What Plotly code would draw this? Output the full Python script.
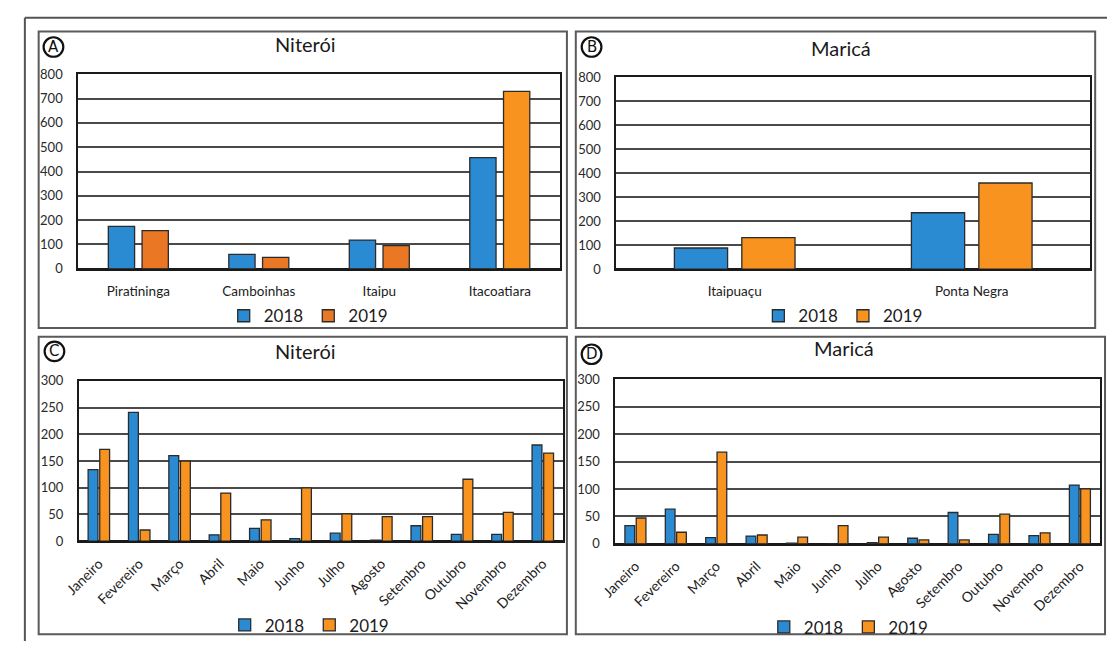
import plotly.graph_objects as go

# ---- data -----------------------------------------------------------------
praias_niteroi = ["Piratininga", "Camboinhas", "Itaipu", "Itacoatiara"]
niteroi_2018 = [174, 59, 118, 457]
niteroi_2019 = [157, 47, 95, 730]

praias_marica = ["Itaipuaçu", "Ponta Negra"]
marica_2018 = [88, 235]
marica_2019 = [131, 359]

meses = ["Janeiro", "Fevereiro", "Março", "Abril", "Maio", "Junho", "Julho",
         "Agosto", "Setembro", "Outubro", "Novembro", "Dezembro"]
niteroi_mes_2018 = [134, 241, 160, 12, 24, 5, 15, 2, 29, 13, 13, 180]
niteroi_mes_2019 = [172, 21, 150, 90, 40, 100, 51, 46, 46, 116, 54, 165]
marica_mes_2018 = [33, 63, 11, 14, 1, 0, 2, 10, 57, 17, 15, 107]
marica_mes_2019 = [47, 21, 167, 16, 12, 33, 12, 7, 7, 54, 20, 100]

anos = ["2018", "2019"]

# ---- styling --------------------------------------------------------------
W, H = 1107, 649
BLUE = "#2A8BD2"
ORANGE = "#F7931E"
DARK_ORANGE = "#EA7724"
EDGE = "#2b2b2b"
GRID = "#4a4a4a"
FONT = "Lato, 'Open Sans', sans-serif"
TEXT = "#1c1c1c"


def px_x(v):
    return v / W


def px_y(v):
    return 1 - v / H


fig = go.Figure()


def add_pair(cats, v18, v19, xa, ya, legend, width, gap, c19=ORANGE):
    fig.add_trace(go.Bar(
        x=cats, y=v18, name=anos[0], xaxis=xa, yaxis=ya, legend=legend,
        marker=dict(color=BLUE, line=dict(color=EDGE, width=1.3)),
        width=width, offset=-(width + gap / 2),
    ))
    fig.add_trace(go.Bar(
        x=cats, y=v19, name=anos[1], xaxis=xa, yaxis=ya, legend=legend,
        marker=dict(color=c19, line=dict(color=EDGE, width=1.3)),
        width=width, offset=gap / 2,
    ))


# panel A: first three 2019 bars in darker orange
colors_a = [DARK_ORANGE, DARK_ORANGE, DARK_ORANGE, ORANGE]
add_pair(praias_niteroi, niteroi_2018, niteroi_2019, "x", "y", "legend",
         0.218, 0.062, colors_a)
add_pair(praias_marica, marica_2018, marica_2019, "x2", "y2", "legend2",
         0.2245, 0.06)
add_pair(meses, niteroi_mes_2018, niteroi_mes_2019, "x3", "y3", "legend3",
         0.244, 0.044)
add_pair(meses, marica_mes_2018, marica_mes_2019, "x4", "y4", "legend4",
         0.24, 0.04)

# plot-area boxes in pixels: (left, right, top, bottom)
boxes = {
    "": (63, 552, 68, 267.3),
    "2": (609, 1090, 71, 267.7),
    "3": (63.6, 555, 382.3, 546.7),
    "4": (608, 1100, 380.7, 549.3),
}
yranges = {"": (800, 100), "2": (800, 100), "3": (300, 50), "4": (300, 50)}

layout = dict(
    width=W, height=H, margin=dict(l=0, r=0, t=0, b=0),
    paper_bgcolor="white", plot_bgcolor="white",
    barmode="group", showlegend=True,
    font=dict(family=FONT, color=TEXT),
)

for k, (l, r, t, b) in boxes.items():
    ymax, dt = yranges[k]
    rotated = k in ("3", "4")
    layout["xaxis" + k] = dict(
        domain=[px_x(l), px_x(r)], anchor="y" + k,
        showline=True, mirror=True, linecolor="#1a1a1a", linewidth=1.6,
        showgrid=False, ticks="", fixedrange=True,
        tickangle=-45 if rotated else 0,
        tickfont=dict(size=14 if rotated else 13.5, color=TEXT, family=FONT),
        ticklabelstandoff=7 if rotated else 9,
    )
    layout["yaxis" + k] = dict(
        domain=[px_y(b), px_y(t)], anchor="x" + k,
        range=[0, ymax], dtick=dt, tick0=0,
        showline=True, mirror=True, linecolor="#1a1a1a", linewidth=1.6,
        showgrid=True, gridcolor=GRID, gridwidth=1.7,
        zeroline=True, zerolinecolor="#1a1a1a", zerolinewidth=1.6,
        ticks="", ticklabelstandoff=11, fixedrange=True,
        tickfont=dict(size=13, color="#2a2a2a", family=FONT),
    )

# legends, one per panel
legend_pos = {"legend": (297, 316), "legend2": (839.5, 316),
              "legend3": (298, 633), "legend4": (845, 635)}
for name, (lx, ly) in legend_pos.items():
    layout[name] = dict(
        orientation="h", x=px_x(lx), y=px_y(ly), xanchor="center",
        yanchor="middle", bgcolor="rgba(0,0,0,0)", itemwidth=30,
        font=dict(size=17, color=TEXT, family=FONT),
        tracegroupgap=0, itemclick=False, itemdoubleclick=False,
    )

# frames: outer border and one box around each panel
shapes = [
    dict(type="line", xref="paper", yref="paper", x0=px_x(9), x1=1.0,
         y0=px_y(10), y1=px_y(10), line=dict(color="#555", width=2)),
    dict(type="line", xref="paper", yref="paper", x0=px_x(9), x1=px_x(9),
         y0=px_y(10), y1=0.0, line=dict(color="#555", width=2)),
]
frames = [(23, 559, 24, 328), (568, 1095, 24, 328),
          (23, 559, 337, 642), (568, 1105, 337, 642)]
for l, r, t, b in frames:
    shapes.append(dict(type="rect", xref="paper", yref="paper",
                       x0=px_x(l), x1=px_x(r), y0=px_y(b), y1=px_y(t),
                       line=dict(color="#5a5a5a", width=2)))

# circled panel letters
letters = [("A", 38, 40), ("B", 584, 40), ("C", 39, 352), ("D", 584, 355)]
R = 10
annotations = []
for text, cx, cy in letters:
    shapes.append(dict(type="circle", xref="paper", yref="paper",
                       x0=px_x(cx - R), x1=px_x(cx + R),
                       y0=px_y(cy + R), y1=px_y(cy - R),
                       line=dict(color="#111", width=2.2)))
    annotations.append(dict(text=text, x=px_x(cx), y=px_y(cy),
                            xref="paper", yref="paper", showarrow=False,
                            xanchor="center", yanchor="middle",
                            font=dict(size=15, color="#111",
                                      family="DejaVu Sans")))
layout["shapes"] = shapes

# panel titles
titles = [("Niterói", 294, 37), ("Maricá", 837, 41),
          ("Niterói", 294, 352), ("Maricá", 840, 349)]
for text, tx, ty in titles:
    annotations.append(dict(text=text, x=px_x(tx), y=px_y(ty),
                            xref="paper", yref="paper", showarrow=False,
                            xanchor="center", yanchor="middle",
                            font=dict(size=20, color="#1a1a1a", family=FONT)))
layout["annotations"] = annotations

fig.update_layout(**layout)
fig.write_html("out.html")
